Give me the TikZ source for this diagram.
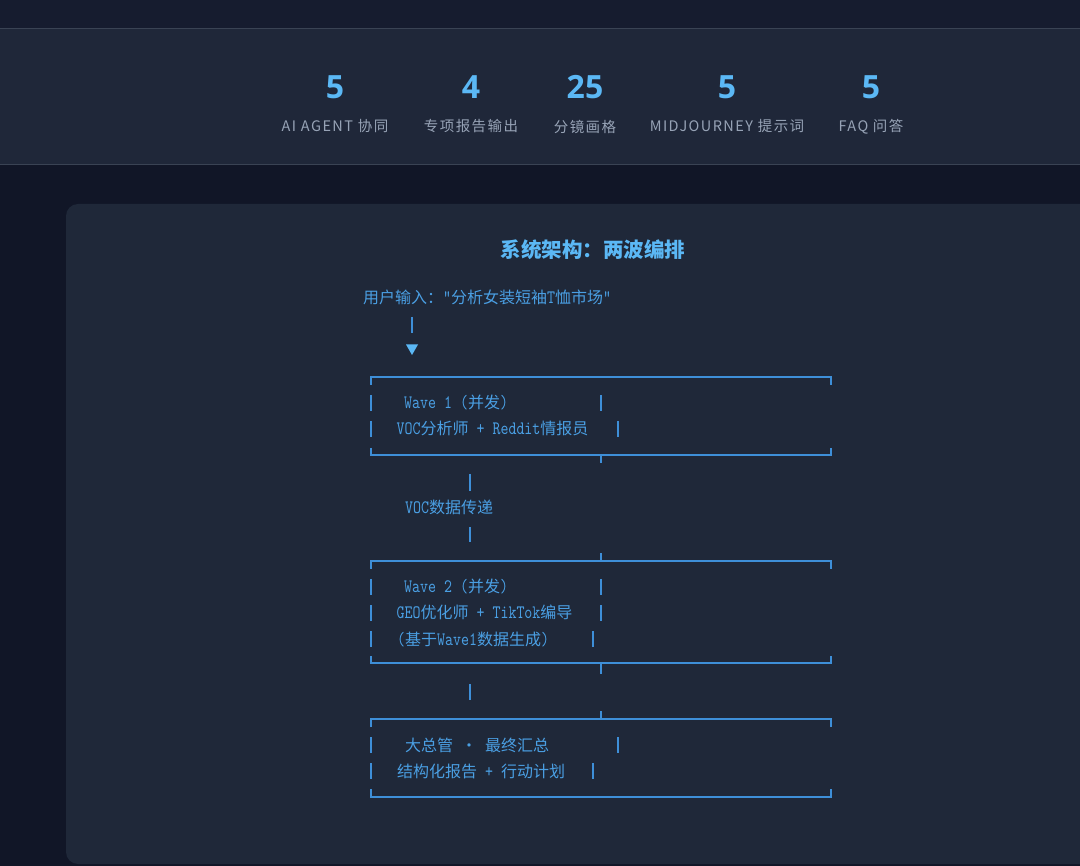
\documentclass[tikz,border=0pt]{standalone}
\usepackage{fontspec}
\newfontfamily\cjk[Scale=0.842]{Noto Sans CJK SC}
\newfontfamily\cjkplain{Noto Sans CJK SC}
\newfontfamily\labfam[LetterSpace=10]{Noto Sans CJK SC}
\newfontfamily\numfam{Open Sans}
\newfontfamily\monofam{lmmono10-regular}[Extension=.otf, FakeStretch=0.8]
\newcommand\C[1]{{\cjk #1}}
\definecolor{bgdark}{HTML}{111627}
\definecolor{topbar}{HTML}{161C2F}
\definecolor{band}{HTML}{1F2739}
\definecolor{sepline}{HTML}{3A4354}
\definecolor{cardbg}{HTML}{1F2839}
\definecolor{numblue}{HTML}{5BB8F5}
\definecolor{monoblue}{HTML}{4A9FE3}
\definecolor{lineblue}{HTML}{3E8FD8}
\definecolor{labgray}{HTML}{97A3B6}
\tikzset{
  statnum/.style={inner sep=0pt, text=numblue, font=\fontsize{32}{34}\selectfont\numfam\bfseries},
  statlab/.style={inner sep=0pt, text=labgray, font=\fontsize{14.5}{16}\selectfont\labfam},
  titlestyle/.style={inner sep=0pt, text=numblue, font=\fontsize{20.5}{22}\selectfont\cjkplain\bfseries},
  mono/.style={anchor=base west, inner sep=0pt, text=monoblue, font=\monofam\fontsize{19}{20}\selectfont},
  boxline/.style={draw=lineblue, line width=1.3pt},
  barline/.style={draw=lineblue, line width=1.3pt},
}
\begin{document}
\begin{tikzpicture}[x=1pt,y=-1pt]
\useasboundingbox (0,0) rectangle (1080,866);
% background
\fill[bgdark] (0,0) rectangle (1080,866);
\fill[topbar] (0,0) rectangle (1080,28);
\fill[band] (0,28) rectangle (1080,165);
\draw[sepline, line width=1pt] (0,28.5) -- (1080,28.5);
\draw[sepline, line width=1pt] (0,164.5) -- (1080,164.5);
\fill[cardbg, rounded corners=12pt] (66,204) rectangle (1110,864);

% stats
\node[statnum] (n1) at (335,87) {5};
\node[statnum] (n2) at (471,87) {4};
\node[statnum] (n3) at (585,87) {25};
\node[statnum] (n4) at (727,87) {5};
\node[statnum] (n5) at (871,87) {5};
\node[statlab] (l1) at (335,126.5) {AI AGENT 协同};
\node[statlab] (l2) at (471,126.5) {专项报告输出};
\node[statlab] (l3) at (585,126.5) {分镜画格};
\node[statlab] (l4) at (727,126.5) {MIDJOURNEY 提示词};
\node[statlab] (l5) at (871,126.5) {FAQ 问答};

% title
\node[titlestyle] (title) at (593,250) {系统架构：两波编排};

% input
\node[mono] (input) at (363,304) {\C{用户输入：}“\C{分析女装短袖}T\C{恤市场}”};
\draw[barline] (412,317) -- (412,333);
\fill[numblue] (406,344.5) -- (418,344.5) -- (412,355) -- cycle;

% box 1
\draw[boxline] (371,385) -- (371,377) -- (831,377) -- (831,385);
\draw[boxline] (371,448) -- (371,455) -- (831,455) -- (831,448);
\draw[boxline] (601,455) -- (601,463);
\draw[barline] (371,395) -- (371,411);
\draw[barline] (371,421) -- (371,437);
\node[mono] (w1a) at (404,409) {Wave 1 (\C{并发})};
\node[mono] (w1b) at (396.5,435) {VOC\C{分析师} + Reddit\C{情报员}};
\draw[barline] (601,395) -- (601,411);
\draw[barline] (618,421) -- (618,437);

% transfer
\draw[barline] (470,474) -- (470,491);
\node[mono] (voc) at (405,514) {VOC\C{数据传递}};
\draw[barline] (470,527) -- (470,542);

% box 2
\draw[boxline] (601,553) -- (601,561);
\draw[boxline] (371,569) -- (371,561) -- (831,561) -- (831,569);
\draw[barline] (371,579) -- (371,595);
\draw[barline] (371,605) -- (371,621);
\draw[barline] (371,631) -- (371,647);
\node[mono] (w2a) at (404,593) {Wave 2 (\C{并发})};
\node[mono] (w2b) at (396.5,619) {GEO\C{优化师} + TikTok\C{编导}};
\node[mono] (w2c) at (397,645) {(\C{基于}Wave1\C{数据生成})};
\draw[barline] (601,579) -- (601,595);
\draw[barline] (601,605) -- (601,621);
\draw[barline] (593,631) -- (593,647);
\draw[boxline] (371,656) -- (371,663) -- (831,663) -- (831,656);
\draw[boxline] (601,663) -- (601,674);

\draw[barline] (470,684) -- (470,700);

% box 3
\draw[boxline] (601,711) -- (601,719);
\draw[boxline] (371,727) -- (371,719) -- (831,719) -- (831,727);
\draw[barline] (371,737) -- (371,753);
\draw[barline] (371,763) -- (371,779);
\node[mono] (m1) at (405,751) {\C{大总管} \makebox[16pt]{\C{·}} \C{最终汇总}};
\node[mono] (m2) at (397,777) {\C{结构化报告} + \C{行动计划}};
\draw[barline] (618,737) -- (618,753);
\draw[barline] (593,763) -- (593,779);
\draw[boxline] (371,789) -- (371,797) -- (831,797) -- (831,789);
\end{tikzpicture}
\end{document}
